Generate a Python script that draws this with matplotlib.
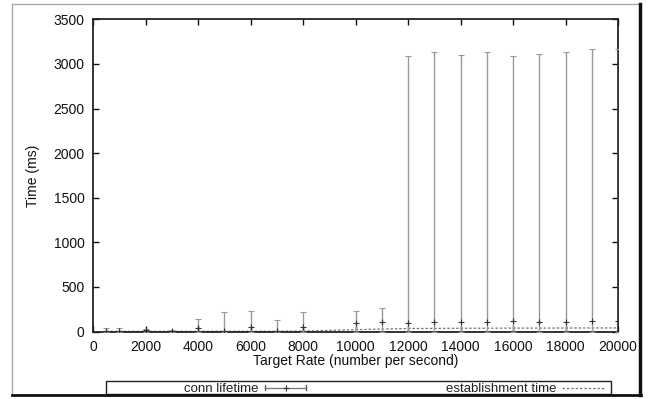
import matplotlib
matplotlib.use("Agg")
import matplotlib.pyplot as plt
from matplotlib.lines import Line2D
from matplotlib.patches import Rectangle
import numpy as np

plt.rcParams['font.family'] = ['Liberation Sans', 'DejaVu Sans']

# conn lifetime (errorbars)
rate = [500, 1000, 2000, 3000, 4000, 5000, 6000, 7000, 8000, 10000, 11000,
        12000, 13000, 14000, 15000, 16000, 17000, 18000, 19000, 20000]
life_mean = [8, 8, 15, 5, 40, 10, 50, 10, 50, 95, 105,
             100, 110, 105, 110, 115, 110, 110, 120, 115]
life_upper = [38, 38, 30, 15, 135, 222, 230, 126, 222, 233, 262,
              3084, 3137, 3095, 3133, 3092, 3107, 3129, 3163, 3170]
life_lower = [0] * len(rate)

# establishment time (dashed)
est_rate = [500, 1000, 2000, 3000, 4000, 5000, 6000, 7000, 8000, 10000, 11000,
            12000, 13000, 14000, 15000, 16000, 17000, 18000, 19000, 20000]
est_time = [2, 2, 2, 2, 2, 3, 3, 3, 5, 20, 28,
            33, 35, 36, 37, 38, 38, 39, 40, 40]

xticks = list(range(0, 20001, 2000))
yticks = list(range(0, 3501, 500))

W, H = 650, 399
fig = plt.figure(figsize=(6.5, 3.99), dpi=100)
fig.patch.set_facecolor('white')

def fx(px):
    return px / W

def fy(py):
    return 1 - py / H

ax = fig.add_axes([fx(93), fy(331.5), fx(618) - fx(93), fy(19.3) - fy(331.5)])

mean = np.array(life_mean)
yerr = np.array([mean - np.array(life_lower), np.array(life_upper) - mean])
ax.errorbar(rate, life_mean, yerr=yerr, fmt='+', color='#333333', ecolor='#999999',
            elinewidth=1.0, capsize=2.5, capthick=1.0, markersize=4, mew=0.8,
            zorder=3)
ax.plot(est_rate, est_time, linestyle=(0, (2, 1.5)), color='#777777', lw=0.9, zorder=2)

ax.set_xlim(0, 20000)
ax.set_ylim(0, 3500)
ax.set_xticks(xticks)
ax.set_yticks(yticks)
ax.tick_params(direction='in', length=4, width=1.0, top=True, right=True,
               labelsize=10, colors='#111111', pad=6)
for s in ax.spines.values():
    s.set_linewidth(1.3)
    s.set_color('#222222')
ax.set_xlabel('Target Rate (number per second)', fontsize=10, color='#111111', labelpad=0)
ax.set_ylabel('Time (ms)', fontsize=10, color='#111111', labelpad=10)

# outer frame
fig.add_artist(Line2D([fx(12), fx(12)], [fy(4), fy(394)], color='#aaaaaa', lw=1.0,
                      transform=fig.transFigure))
fig.add_artist(Line2D([fx(12), fx(640)], [fy(4), fy(4)], color='#aaaaaa', lw=1.0,
                      transform=fig.transFigure))
fig.add_artist(Line2D([fx(640), fx(640)], [fy(4), fy(394.5)], color='#111111', lw=2.5,
                      transform=fig.transFigure))
fig.add_artist(Line2D([fx(12), fx(641)], [fy(394.5), fy(394.5)], color='#111111', lw=2.0,
                      transform=fig.transFigure))

# legend box
fig.add_artist(Rectangle((fx(106), fy(394)), fx(611) - fx(106), fy(381) - fy(394),
                         transform=fig.transFigure, fill=False, edgecolor='#222222', lw=1.0))
ly = fy(387.5)
fig.text(fx(258), ly, 'conn lifetime', ha='right', va='center_baseline', fontsize=9.5, color='#222222')
fig.add_artist(Line2D([fx(265), fx(306)], [ly, ly], color='#777777', lw=0.9,
                      transform=fig.transFigure))
for xx in (265, 306):
    fig.add_artist(Line2D([fx(xx), fx(xx)], [ly - 0.006, ly + 0.006], color='#555555', lw=0.9,
                          transform=fig.transFigure))
fig.add_artist(Line2D([fx(285.5)], [ly], marker='+', markersize=4, mew=0.8, color='#333333',
                      transform=fig.transFigure))
fig.text(fx(556), ly, 'establishment time', ha='right', va='center_baseline', fontsize=9.5, color='#222222')
fig.add_artist(Line2D([fx(562), fx(604)], [ly, ly], linestyle=(0, (2, 1.5)), color='#777777',
                      lw=0.9, transform=fig.transFigure))

fig.savefig('out.png', dpi=100)
